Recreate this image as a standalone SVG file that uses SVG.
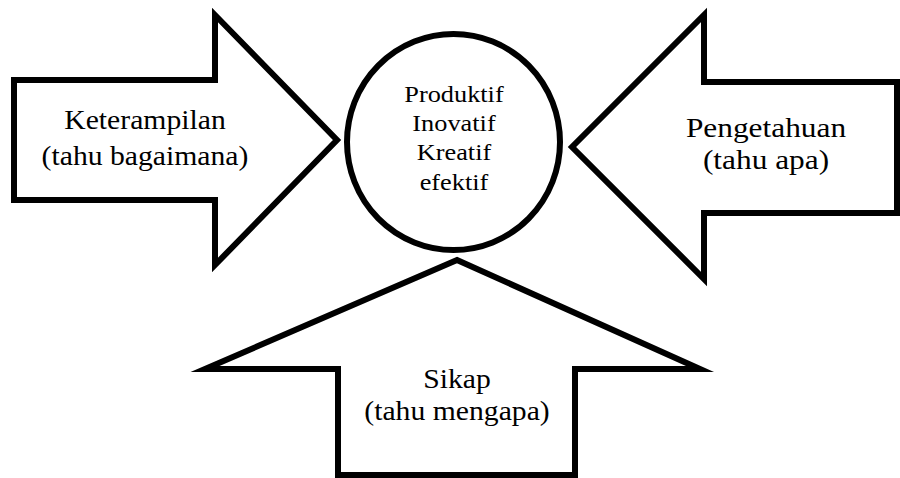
<svg xmlns="http://www.w3.org/2000/svg" width="900" height="478" viewBox="0 0 900 478">
<style>
.shape{fill:#fff;stroke:#000;stroke-width:6;stroke-linejoin:miter;stroke-miterlimit:10}
.lbl{fill:#000;text-anchor:middle}
</style>
<rect width="900" height="478" fill="#fff"/>
<g id="connectors"></g>
<g id="keterampilan">
<polygon class="shape" points="14,80 215,80 215,15 337,140 215,265 215,200 14,200"/>
<g transform="translate(145 0) scale(1.12 1)" font-family="Liberation Serif, serif" font-size="26.5">
<text class="lbl" x="0" y="129">Keterampilan</text>
<text class="lbl" x="0" y="165">(tahu bagaimana)</text>
</g>
</g>
<g id="pengetahuan">
<polygon class="shape" points="897,82 704,82 704,15 572,147 704,279 704,213 897,213"/>
<g transform="translate(766 0) scale(1.12 1)" font-family="Liberation Serif, serif" font-size="28">
<text class="lbl" x="0" y="137">Pengetahuan</text>
<text class="lbl" x="0" y="169">(tahu apa)</text>
</g>
</g>
<g id="sikap">
<polygon class="shape" points="457,260 700,369 575,369 575,475 338,475 338,369 205,369"/>
<g transform="translate(457 0) scale(1.12 1)" font-family="Liberation Serif, serif" font-size="26.5">
<text class="lbl" x="0" y="388">Sikap</text>
<text class="lbl" x="0" y="420">(tahu mengapa)</text>
</g>
</g>
<g id="center">
<ellipse class="shape" cx="453.5" cy="142" rx="106.5" ry="108"/>
<g transform="translate(454 0) scale(1.12 1)" font-family="Liberation Serif, serif" font-size="23.5">
<text class="lbl" x="0" y="102">Produktif</text>
<text class="lbl" x="0" y="131">Inovatif</text>
<text class="lbl" x="0" y="160">Kreatif</text>
<text class="lbl" x="0" y="190">efektif</text>
</g>
</g>
</svg>
